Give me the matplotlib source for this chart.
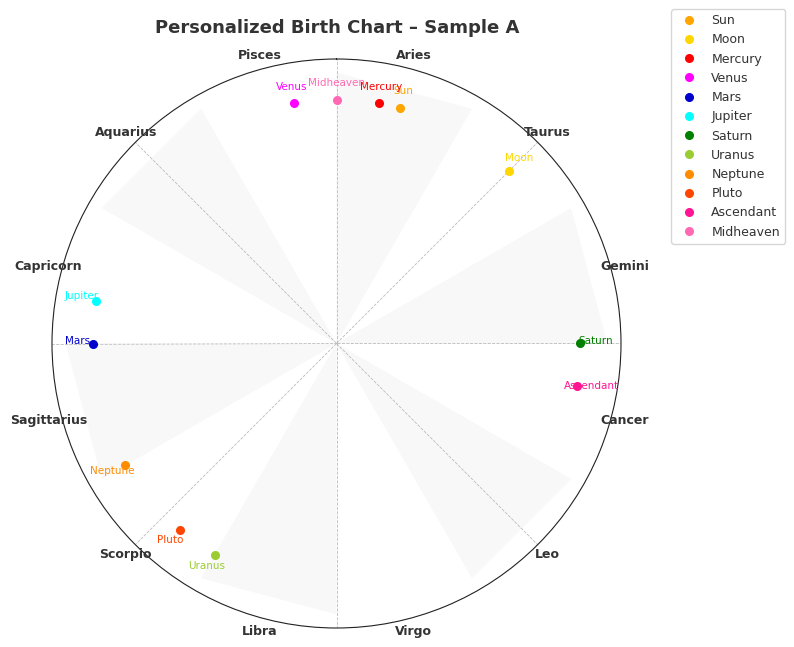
import numpy as np
import matplotlib
matplotlib.use("Agg")
import matplotlib.pyplot as plt
from matplotlib.transforms import offset_copy

signs = ["Aries", "Taurus", "Gemini", "Cancer", "Leo", "Virgo",
         "Libra", "Scorpio", "Sagittarius", "Capricorn", "Aquarius", "Pisces"]

bodies = ["Sun", "Moon", "Mercury", "Venus", "Mars", "Jupiter",
          "Saturn", "Uranus", "Neptune", "Pluto", "Ascendant", "Midheaven"]
degrees = [15, 45, 10, 350, 270, 280, 90, 210, 240, 220, 100, 0]
colors = ["orange", "gold", "red", "magenta", "mediumblue", "cyan",
          "green", "yellowgreen", "darkorange", "orangered", "deeppink", "hotpink"]

fig = plt.figure(figsize=(7.94, 6.47), dpi=100)
ax = fig.add_axes([52 / 794, 19 / 647, 569 / 794, 569 / 647], projection="polar")
ax.set_theta_zero_location("N")
ax.set_theta_direction(-1)
ax.set_ylim(0, 1.05)

# alternating sign sectors
for i in range(0, 12, 2):
    t1 = np.deg2rad(i * 30)
    t2 = np.deg2rad(i * 30 + 30)
    ax.fill([0, t1, t2], [0, 1, 1], color="#f8f8f8", zorder=0, lw=0)

# sign names
for i, s in enumerate(signs):
    ax.text(np.deg2rad(i * 30 + 15), 1.1, s, ha="center", va="center",
            fontsize=9, fontweight="bold", color="#333333")

# planets
lbl_tr = offset_copy(ax.transData, fig=fig, y=1.5, units="points")
for name, d, c in zip(bodies, degrees, colors):
    th = np.deg2rad(d)
    ax.plot(th, 0.9, "o", color=c, markersize=5.5, label=name, zorder=3)
    ax.text(th, 0.955, name, color=c, fontsize=7.5, ha="center", va="center",
            transform=lbl_tr)

ax.set_xticklabels([])
ax.set_yticks([])
ax.grid(True, linestyle="--", color="#bbbbbb", linewidth=0.6)
ax.spines["polar"].set_color("#222222")

fig.text(337 / 794, 1 - 28 / 647, "Personalized Birth Chart \u2013 Sample A",
         ha="center", va="center", fontsize=13, fontweight="bold", color="#333333")

fig.legend(loc="upper right", bbox_to_anchor=(785 / 794, 1 - 9 / 647),
           borderaxespad=0, fontsize=9, labelcolor="#333333")

fig.savefig("out.png", dpi=100)
